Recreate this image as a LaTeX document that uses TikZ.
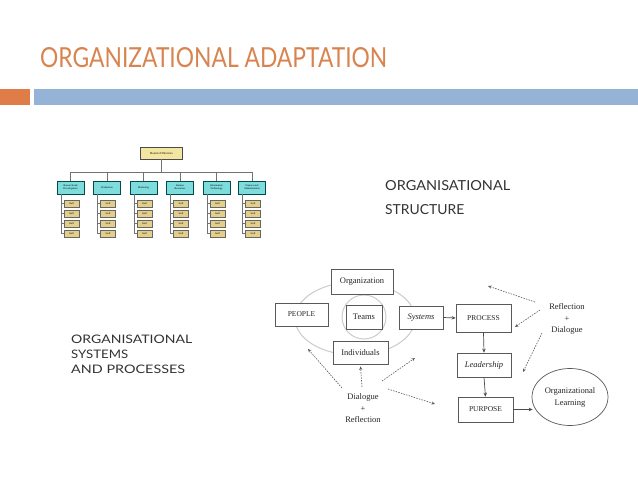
\documentclass[tikz,border=0pt]{standalone}
\usepackage{graphicx}
\usepackage{fontspec}
\setmainfont{Liberation Serif}
\newfontfamily\latofont{Lato}
\usetikzlibrary{arrows.meta,shapes.geometric}
\definecolor{titleorange}{HTML}{D9834F}
\definecolor{barorange}{HTML}{E07C47}
\definecolor{barblue}{HTML}{95B3D7}
\definecolor{orgcyan}{HTML}{7EDCDC}
\definecolor{orgyellow}{HTML}{F2E6A0}
\definecolor{orgtan}{HTML}{E3CF8A}
\definecolor{inkgray}{HTML}{333333}
\begin{document}
\begin{tikzpicture}[x=1pt,y=-1pt,
  board/.style={draw=black!70, fill=orgyellow, minimum width=42pt, minimum height=12pt, inner sep=0, font=\fontsize{3}{3}\selectfont},
  dept/.style={draw=teal!60!black, fill=orgcyan, minimum width=27pt, minimum height=13pt, inner sep=0, align=center, font=\fontsize{2.6}{3}\selectfont},
  staff/.style={draw=black!60, fill=orgtan, minimum width=15pt, minimum height=7.5pt, inner sep=0, font=\fontsize{2.5}{3}\selectfont},
  orgline/.style={draw=black!55, line width=0.6pt},
  lbl/.style={anchor=base west, inner sep=0, text=inkgray},
  box/.style={draw=black!65, line width=0.7pt, fill=white, inner sep=0, text=black!85, font=\fontsize{8.5}{9}\selectfont},
  capbox/.style={box, font=\fontsize{7.5}{8}\selectfont},
  darr/.style={-{Stealth[length=3.5pt,width=3pt]}, draw=black!65, line width=0.6pt, dash pattern=on 1.5pt off 1.2pt},
  sarr/.style={-{Stealth[length=4pt,width=3.5pt]}, draw=black!70, line width=0.7pt},
  free/.style={text=black!85, font=\fontsize{8.5}{11.5}\selectfont, align=center, inner sep=0}
]
\useasboundingbox (0,0) rectangle (638,479);
\fill[white] (0,0) rectangle (638,479);

% title and bars
\node[anchor=base west, inner sep=0, text=titleorange] (title) at (40,67)
  {\resizebox{347pt}{20pt}{\latofont ORGANIZATIONAL ADAPTATION}};
\fill[barorange] (0,89) rectangle (30,105);
\fill[barblue] (34,89) rectangle (638,105);

% side labels
\node[lbl] (os1) at (385,190) {\resizebox{125pt}{10pt}{\latofont ORGANISATIONAL}};
\node[lbl] (os2) at (385,214) {\resizebox{79pt}{10pt}{\latofont STRUCTURE}};
\node[lbl] (sp1) at (71,343) {\resizebox{121pt}{8.5pt}{\latofont ORGANISATIONAL}};
\node[lbl] (sp2) at (71,358) {\resizebox{57pt}{8.5pt}{\latofont SYSTEMS}};
\node[lbl] (sp3) at (71,373) {\resizebox{114pt}{8.5pt}{\latofont AND PROCESSES}};

% org chart
\node[board] (board) at (161.5,153) {Board of Directors};
\coordinate (bus) at (161.5,172);
\foreach \i/\x/\t in {1/70.5/{Research and\\Development},2/107/Production,3/143.5/Marketing,4/180/{Human\\Resources},5/216.5/{Information\\Technology},6/252/{Finance and\\Administration}}{
  \node[dept] (d\i) at (\x,187.5) {\t};
  \draw[orgline] (board.south) |- (d\i.north |- bus) -- (d\i.north);
  \foreach \j/\y in {1/203.5,2/213.5,3/223.5,4/233.5}{
    \node[staff] (s\i-\j) at (\x+1,\y) {Staff};
  }
  \coordinate (v\i) at ([xshift=-9.5pt]d\i.south);
  \draw[orgline] (v\i) |- (s\i-4.west);
  \foreach \j in {1,2,3}{
    \draw[orgline] (v\i |- s\i-\j.west) -- (s\i-\j.west);
  }
}

% bottom diagram: rings
\draw[black!20, line width=1pt] (355,318.5) ellipse [x radius=60, y radius=36.5];
\draw[black!20, line width=1pt] (364,317) circle [radius=22];

\node[box, minimum width=62pt, minimum height=25pt] (org) at (362,281.5) {Organization};
\node[capbox, minimum width=53pt, minimum height=23pt] (people) at (301.5,314.5) {PEOPLE};
\node[box, minimum width=36pt, minimum height=24pt] (teams) at (364,317) {Teams};
\node[box, minimum width=44pt, minimum height=23pt] (systems) at (421,317.5) {\itshape Systems};
\node[box, minimum width=55pt, minimum height=23pt] (indiv) at (360.5,352.5) {Individuals};
\node[capbox, minimum width=55pt, minimum height=28pt] (process) at (483.5,318) {PROCESS};
\node[box, minimum width=54pt, minimum height=24pt] (lead) at (484,365) {\itshape Leadership};
\node[capbox, minimum width=55pt, minimum height=25pt] (purpose) at (485.5,409.5) {PURPOSE};
\node[ellipse, draw=black!65, line width=0.7pt, minimum width=76pt, minimum height=57pt, inner sep=0, align=center, text=black!85, font=\fontsize{8.5}{12}\selectfont] (ol) at (570,397) {Organizational\\Learning};

\node[free] (dr) at (363,408.5) {Dialogue\\+\\Reflection};
\node[free] (rd) at (567,319) {Reflection\\+\\Dialogue};

\draw[sarr] (systems.east) -- (process.west);
\draw[sarr] (process.south) -- (lead.north);
\draw[sarr] (lead.south) -- (purpose.north);
\draw[sarr] (purpose.east) -- ([xshift=1pt]purpose.east -| ol.west);

% dashed arrows
\coordinate (a1s) at (342,388); \coordinate (a1e) at (308,349);
\coordinate (a2s) at (362,387);
\coordinate (a3s) at (382,381); \coordinate (a3e) at (415,358);
\coordinate (a4s) at (388,389); \coordinate (a4e) at (435,404);
\draw[darr] (a1s) -- (a1e);
\draw[darr] (a2s) -- ([yshift=-2pt]indiv.south);
\draw[darr] (a3s) -- (a3e);
\draw[darr] (a4s) -- (a4e);
\coordinate (b1s) at (535,302); \coordinate (b1e) at (488,286);
\coordinate (b2s) at (540,310); \coordinate (b2e) at (515,327);
\coordinate (b3s) at (542,333); \coordinate (b3e) at (523,372);
\draw[darr] (b1s) -- (b1e);
\draw[darr] (b2s) -- (b2e);
\draw[darr] (b3s) -- (b3e);
\end{tikzpicture}
\end{document}
